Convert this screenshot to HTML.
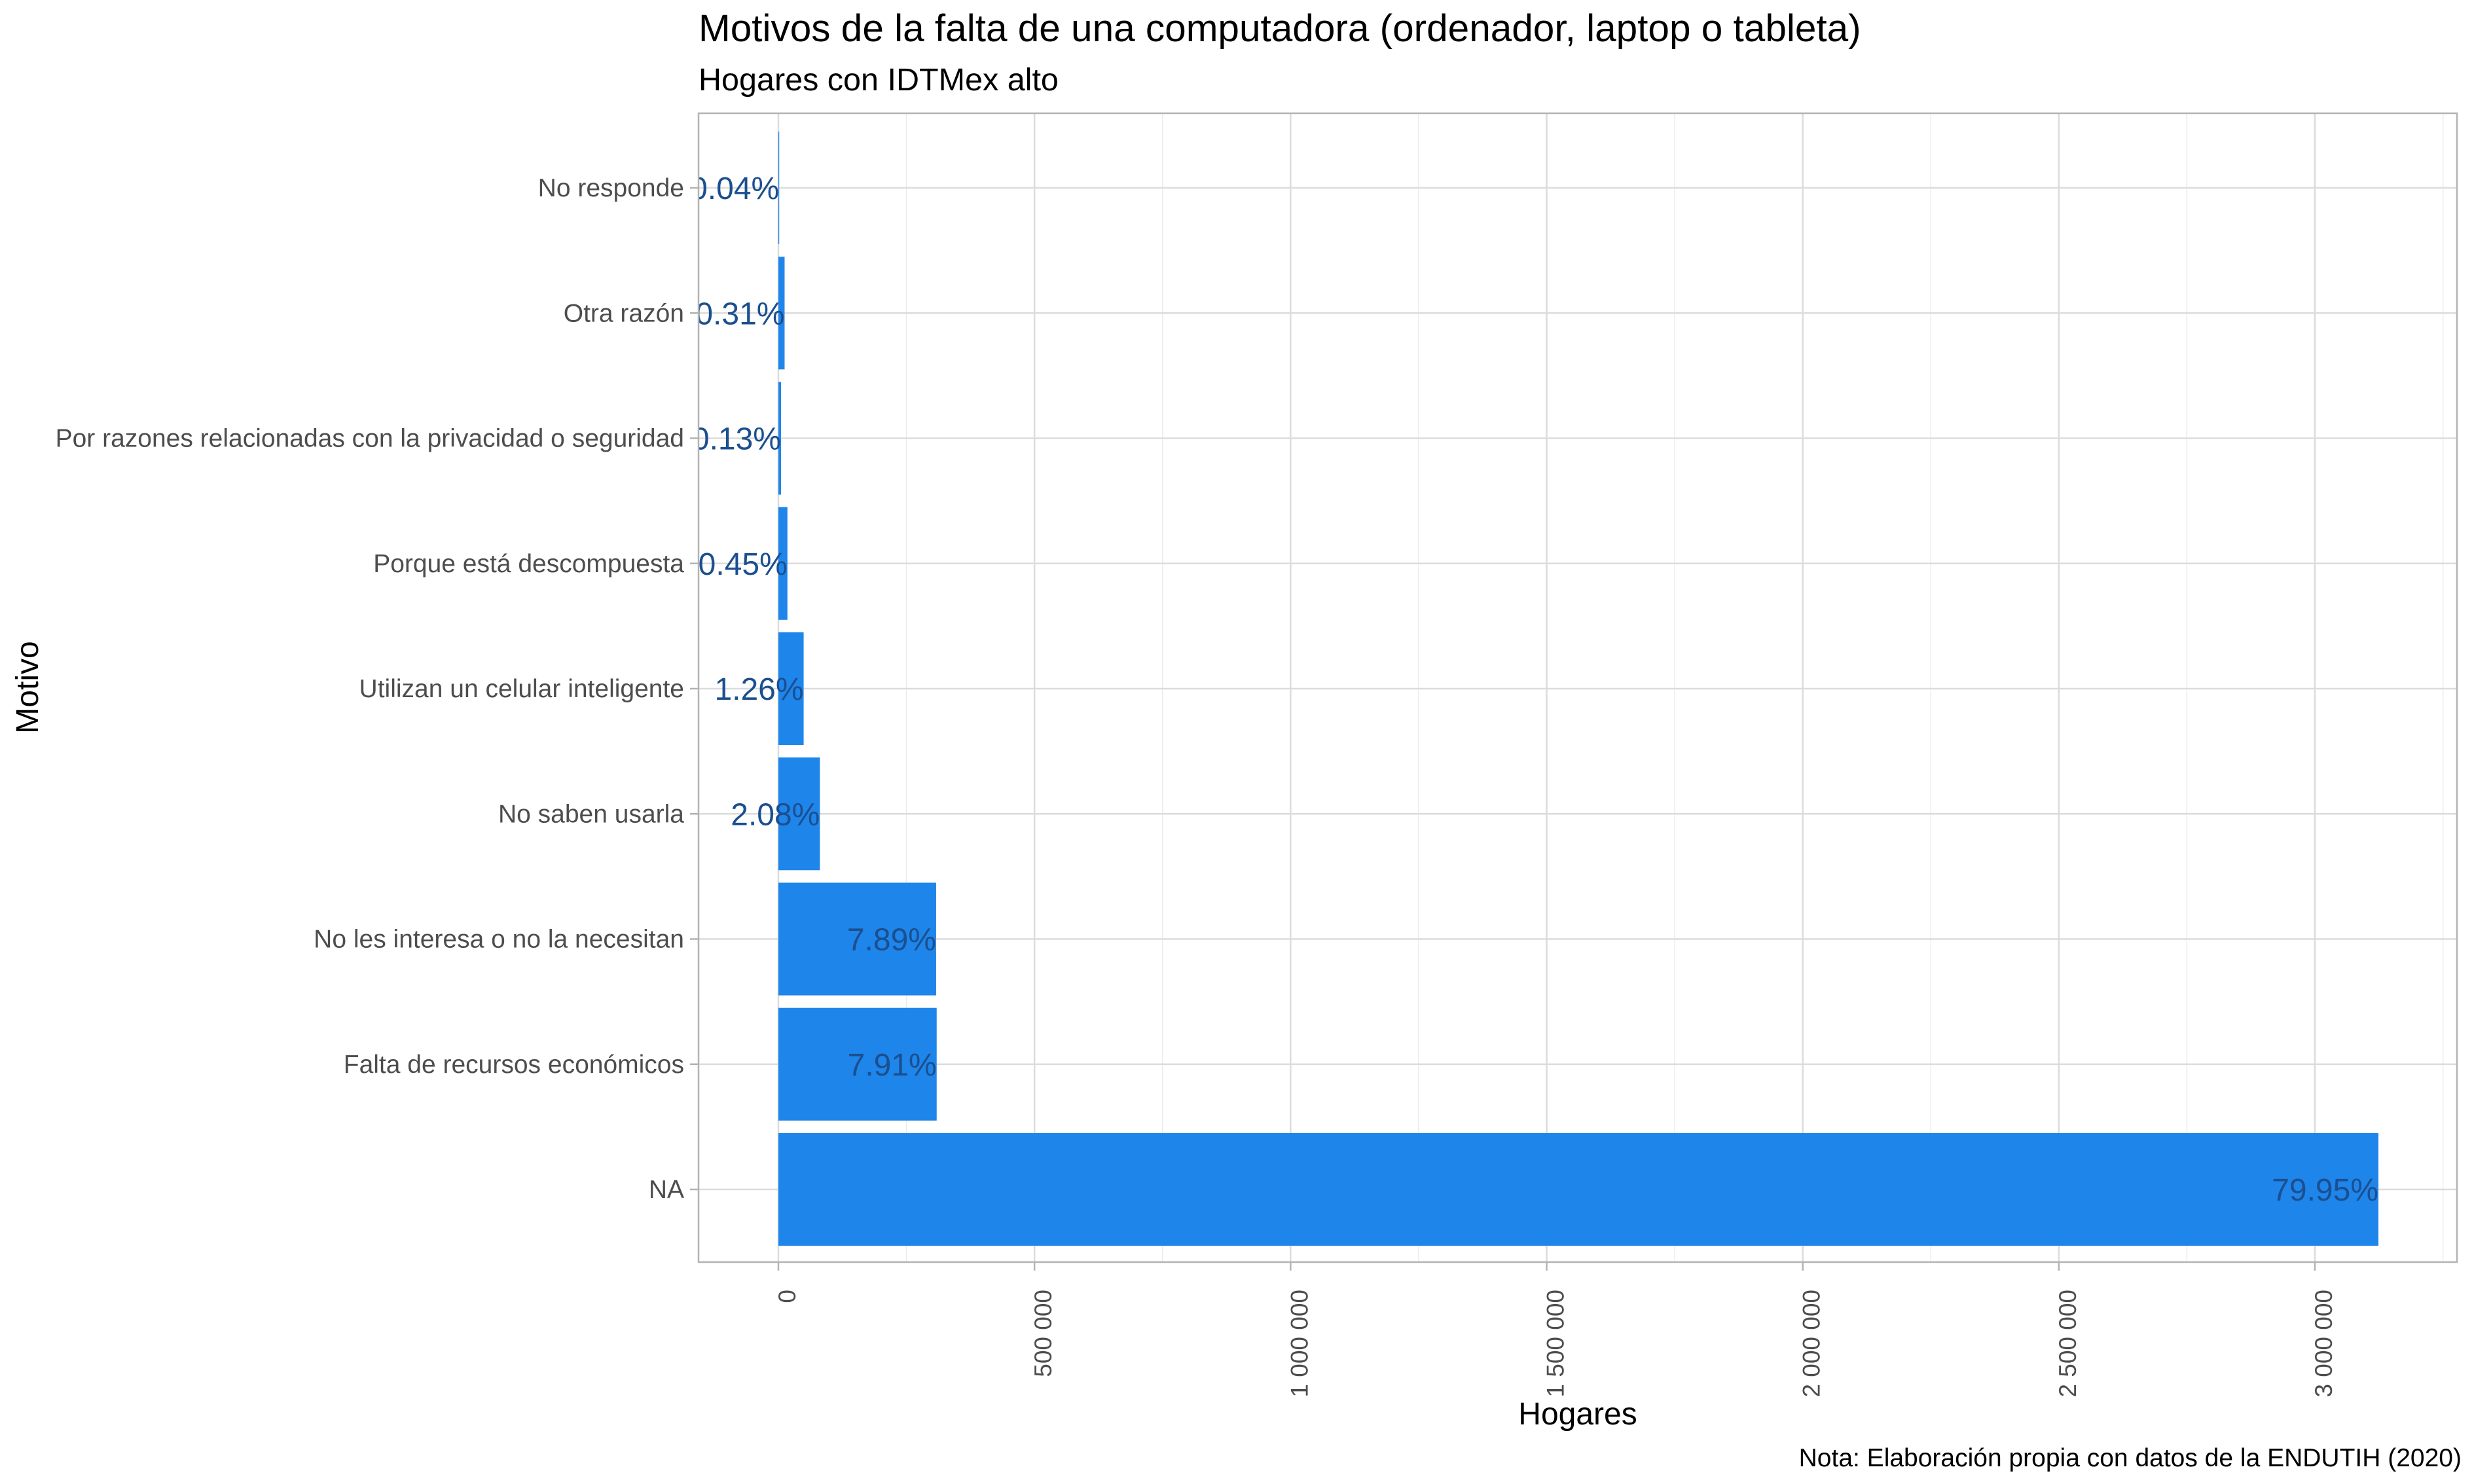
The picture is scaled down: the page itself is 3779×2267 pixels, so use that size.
<!DOCTYPE html>
<html><head><meta charset="utf-8">
<style>
html,body{margin:0;padding:0;background:#fff;}
svg{display:block;font-family:"Liberation Sans",Arial,sans-serif;}
</style></head>
<body>
<svg id="chart" width="3779" height="2267" viewBox="0 0 3779 2267" xmlns="http://www.w3.org/2000/svg">
<text x="1067" y="63" font-size="58.5" fill="#000">Motivos de la falta de una computadora (ordenador, laptop o tableta)</text>
<text x="1067" y="138" font-size="48.5" fill="#000">Hogares con IDTMex alto</text>
<g id="grid"></g>
<g id="bars"></g>
<g id="labels"></g>
<g id="axes"></g>
<text x="2410" y="2176" font-size="48" text-anchor="middle" fill="#000">Hogares</text>
<text transform="translate(58,1050) rotate(-90)" font-size="48" text-anchor="middle" fill="#000">Motivo</text>
<text x="3760" y="2240" font-size="39" text-anchor="end" fill="#000">Nota: Elaboración propia con datos de la ENDUTIH (2020)</text>
</svg>
<script>
const categories = ["No responde","Otra razón","Por razones relacionadas con la privacidad o seguridad","Porque está descompuesta","Utilizan un celular inteligente","No saben usarla","No les interesa o no la necesitan","Falta de recursos económicos","NA"];
const values = [1560, 12100, 5100, 17600, 49300, 81000, 308000, 309000, 3124000];
const pctLabels = ["0.04%","0.31%","0.13%","0.45%","1.26%","2.08%","7.89%","7.91%","79.95%"];
const xTicks = [0, 500000, 1000000, 1500000, 2000000, 2500000, 3000000];
const xTickLabels = ["0","500 000","1 000 000","1 500 000","2 000 000","2 500 000","3 000 000"];

const NS = "http://www.w3.org/2000/svg";
const P = {l:1067, r:3753, t:173, b:1928};
const x0 = 1189, pxPer = (3536-1189)/3000000;
const xs = v => x0 + v*pxPer;
const y0 = 287, step = (1817-287)/(categories.length-1);
const ys = i => y0 + i*step;
const bw = step*0.9;

function mk(tag, attrs, parent){const e=document.createElementNS(NS,tag);for(const k in attrs)e.setAttribute(k,attrs[k]);parent.appendChild(e);return e;}
const grid=document.getElementById('grid'), bars=document.getElementById('bars'), labels=document.getElementById('labels'), axes=document.getElementById('axes');
const svg=document.getElementById('chart');
const defs=mk('defs',{},svg);
const cp=mk('clipPath',{id:'pclip'},defs);
mk('rect',{x:P.l,y:P.t,width:P.r-P.l,height:P.b-P.t},cp);

for(let i=0;i<xTicks.length;i++){
  const mx = xs(xTicks[i]+250000);
  if(mx<P.r){const g=mk('line',{x1:mx,x2:mx,y1:P.t,y2:P.b,stroke:'#ececec','stroke-width':1.5},grid);
  
  }
}
xTicks.forEach((v,i)=>{
  const x=xs(v);
  const g=mk('line',{x1:x,x2:x,y1:P.t,y2:P.b,stroke:'#dcdcdc','stroke-width':2.5},grid);
  
  
  const t=mk('line',{x1:x,x2:x,y1:P.b,y2:P.b+13,stroke:'#b3b3b3','stroke-width':2.5},axes);
  
  
  const lb=mk('text',{transform:`translate(${x+26},${P.b+42}) rotate(-90)`,'font-size':37,'text-anchor':'end',fill:'#4d4d4d'},axes);
  lb.textContent=xTickLabels[i];
  
  
});
categories.forEach((c,i)=>{
  const y=ys(i);
  const g=mk('line',{x1:P.l,x2:P.r,y1:y,y2:y,stroke:'#dcdcdc','stroke-width':2.5},grid);
  
  
  const b=mk('rect',{x:x0,y:y-bw/2,width:Math.max(xs(values[i])-x0,1),height:bw,fill:'#1e85eb'},bars);
  
  
  const pl=mk('text',{x:xs(values[i]),y:y+17,'font-size':48,'text-anchor':'end',fill:'#1b4f8f','clip-path':'url(#pclip)'},labels);
  pl.textContent=pctLabels[i];
  
  
  const t=mk('line',{x1:P.l-13,x2:P.l,y1:y,y2:y,stroke:'#b3b3b3','stroke-width':2.5},axes);
  
  
  const yl=mk('text',{x:P.l-22,y:y+13,'font-size':39,'text-anchor':'end',fill:'#4d4d4d'},axes);
  yl.textContent=c;
  
  
});
const border=mk('rect',{x:P.l,y:P.t,width:P.r-P.l,height:P.b-P.t,fill:'none',stroke:'#b3b3b3','stroke-width':2.5},axes);


</script>
</body></html>
